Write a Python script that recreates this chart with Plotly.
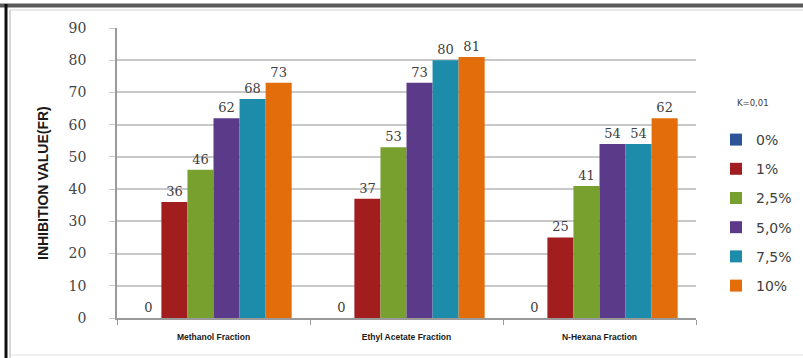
import plotly.graph_objects as go

# Inhibition values per solvent fraction and concentration (K = 0,01)
fractions = ["Methanol Fraction", "Ethyl Acetate Fraction", "N-Hexana Fraction"]
concentrations = ["0%", "1%", "2,5%", "5,0%", "7,5%", "10%"]
values_0 = [0, 0, 0]
values_1 = [36, 37, 25]
values_25 = [46, 53, 41]
values_50 = [62, 73, 54]
values_75 = [68, 80, 54]
values_10 = [73, 81, 62]
series = [values_0, values_1, values_25, values_50, values_75, values_10]
colors = ["#2D5596", "#A21D1D", "#77A02F", "#5B3A8A", "#1D8BAA", "#E36C0B"]
y_ticks = [0, 10, 20, 30, 40, 50, 60, 70, 80, 90]

W, H = 803, 358
L, R, T, B = 117, 107, 28, 40
pw, ph = W - L - R, H - T - B


def px_x(x):
    return (x - L) / pw


def px_y(y):
    return (H - B - y) / ph


fig = go.Figure()
for name, vals, col in zip(concentrations, series, colors):
    fig.add_trace(go.Bar(
        name=name, x=fractions, y=vals, marker_color=col, marker_line_width=0,
        text=[str(v) for v in vals], textposition="outside",
        textfont=dict(family="DejaVu Serif", size=13, color="#404040"),
        cliponaxis=False, legendgroup=name,
    ))

fig.update_layout(
    width=W, height=H, margin=dict(l=L, r=R, t=T, b=B, autoexpand=False),
    paper_bgcolor="white", plot_bgcolor="white",
    barmode="group", bargap=0.19, bargroupgap=0,
    showlegend=True,
    legend=dict(xref="container", yref="container",
                x=716 / W, y=1 - 124 / H, xanchor="left", yanchor="top",
                font=dict(family="DejaVu Sans", size=14, color="#404040"),
                tracegroupgap=8, traceorder="grouped",
                bgcolor="rgba(0,0,0,0)", itemwidth=30),
    xaxis=dict(showline=True, linecolor="#9A9A9A", linewidth=1.5,
               ticks="outside", tickson="boundaries", ticklen=5, tickcolor="#9A9A9A",
               tickfont=dict(family="Liberation Sans", size=8.5, color="#1A1A1A", weight="bold"),
               ticklabelstandoff=10),
    yaxis=dict(range=[0, 90], tickvals=y_ticks, showline=True, linecolor="#9A9A9A",
               linewidth=1.5, showgrid=True, gridcolor="#C8C8C8", gridwidth=1.5,
               ticks="outside", ticklen=6, tickcolor="#C8C8C8",
               tickfont=dict(family="DejaVu Serif", size=14, color="#454545"),
               ticklabelstandoff=20, zeroline=False),
)

# Rotated axis title
fig.add_annotation(text="<b>INHIBITION VALUE(FR)</b>", textangle=-90,
                   xref="paper", yref="paper", x=px_x(43), y=px_y(183),
                   showarrow=False, xanchor="center", yanchor="middle",
                   font=dict(family="Liberation Sans Narrow, Liberation Sans", size=14, color="#1A1A1A"))
# Legend heading
fig.add_annotation(text="K=0,01", xref="paper", yref="paper", x=px_x(735), y=px_y(103),
                   showarrow=False, xanchor="left", yanchor="middle",
                   font=dict(family="DejaVu Sans", size=8.5, color="#404040"))

# Frame around the chart
fig.add_shape(type="line", xref="paper", yref="paper", x0=px_x(0), x1=px_x(803),
              y0=px_y(5.5), y1=px_y(5.5), line=dict(color="#5A5A5A", width=4))
fig.add_shape(type="line", xref="paper", yref="paper", x0=px_x(6), x1=px_x(6),
              y0=px_y(4), y1=px_y(358), line=dict(color="#111111", width=3))
fig.add_shape(type="line", xref="paper", yref="paper", x0=px_x(10), x1=px_x(10),
              y0=px_y(10), y1=px_y(358), line=dict(color="#B0B0B0", width=1))
fig.add_shape(type="line", xref="paper", yref="paper", x0=px_x(10), x1=px_x(803),
              y0=px_y(10), y1=px_y(10), line=dict(color="#D0D0D0", width=1))
fig.add_shape(type="line", xref="paper", yref="paper", x0=px_x(10), x1=px_x(803),
              y0=px_y(355), y1=px_y(355), line=dict(color="#E0E0E0", width=1))

fig.write_html("out.html")
